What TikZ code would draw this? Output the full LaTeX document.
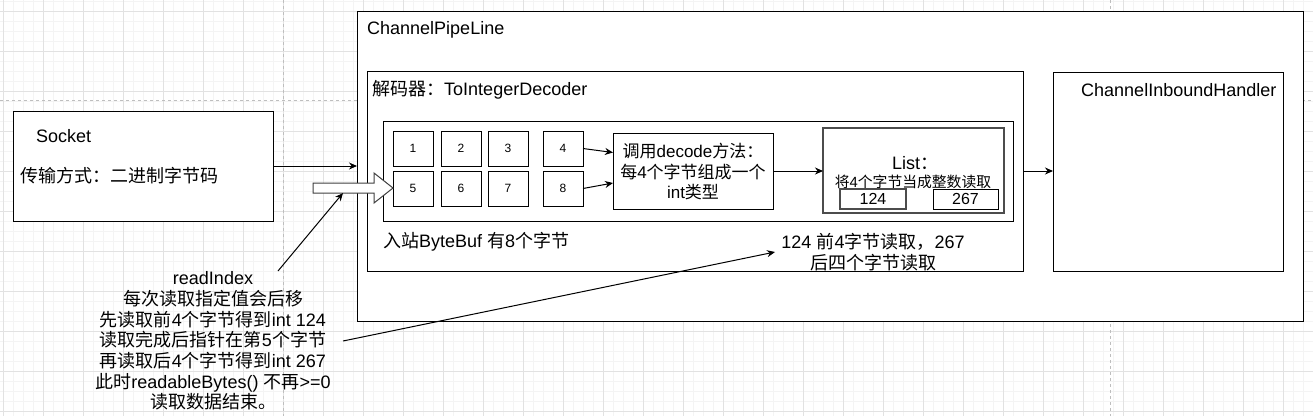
\documentclass[tikz,border=0pt]{standalone}
\usepackage{fontspec}
\setmainfont{Liberation Sans}
\newfontfamily\cjk{Noto Sans CJK SC}
\usetikzlibrary{arrows.meta}
\newcommand\zh[1]{{\cjk #1}}
\definecolor{gridminor}{RGB}{244,244,244}
\definecolor{gridmajor}{RGB}{226,226,226}
\definecolor{pagebreak}{RGB}{190,190,190}
\tikzset{
  box/.style={draw=black, line width=1pt, fill=white, anchor=north west, inner sep=0pt, outer sep=0pt},
  graybox/.style={box, draw=black!70, line width=1.2pt},
  lbl/.style={inner sep=0pt, anchor=west, font=\fontsize{18}{20.7}\selectfont},
  clbl/.style={inner sep=0pt, align=center},
  digit/.style={font=\fontsize{12}{14}\selectfont},
  conn/.style={line width=1pt, -{Stealth[length=8pt,width=7pt]}},
  minorline/.style={draw=gridminor, line width=0.8pt},
  majorline/.style={draw=gridmajor, line width=0.9pt},
  pageline/.style={draw=pagebreak, line width=0.8pt, dash pattern=on 3pt off 3pt},
  hollowarrow/.style={draw=black!75, line width=1pt, fill=white},
}
\begin{document}
\begin{tikzpicture}[x=1pt,y=-1pt]
\useasboundingbox (0,0) rectangle (1313,416);
\fill[white] (0,0) rectangle (1313,416);
% grid
\foreach \x in {3,13,...,1313} \draw[minorline] (\x,0) -- (\x,416);
\foreach \y in {1,11,...,416} \draw[minorline] (0,\y) -- (1313,\y);
\foreach \x in {3,43,...,1313} \draw[majorline] (\x,0) -- (\x,416);
\foreach \y in {11,51,...,416} \draw[majorline] (0,\y) -- (1313,\y);
\draw[pageline] (283,0) -- (283,416);
\draw[pageline] (1110,0) -- (1110,416);
\draw[pageline] (0,100.5) -- (1313,100.5);

% Socket
\node[box, minimum width=260pt, minimum height=110pt] (sock) at (13,111) {};
\node[lbl] (socktitle) at (36,136) {Socket};
\node[lbl] (socktxt) at (20,176) {\zh{传输方式：二进制字节码}};

% ChannelPipeLine
\node[box, minimum width=946pt, minimum height=310pt] (pipe) at (357,11) {};
\node[lbl] (pipetitle) at (367,30) {ChannelPipeLine};

% Decoder
\node[box, minimum width=656pt, minimum height=200pt] (decoder) at (367,71) {};
\node[lbl] (dectitle) at (372,90) {\zh{解码器：}ToIntegerDecoder};

% ByteBuf
\node[box, minimum width=630pt, minimum height=100pt] (buf) at (383,121) {};
\node[lbl] (buftxt) at (383,242) {\zh{入站}ByteBuf \zh{有}8\zh{个字节}};

% bytes
\tikzset{byte/.style={box, minimum width=40pt, minimum height=35pt, digit}}
\node[byte] (b1) at (393,131) {1};
\node[byte] (b2) at (441,131) {2};
\node[byte] (b3) at (488,131) {3};
\node[byte] (b4) at (543,131) {4};
\node[byte] (b5) at (393,171) {5};
\node[byte] (b6) at (441,171) {6};
\node[byte] (b7) at (488,171) {7};
\node[byte] (b8) at (543,171) {8};

% decode method box
\node[box, minimum width=160pt, minimum height=76pt] (dec) at (613,133) {};
\node[clbl, font=\fontsize{17}{20.5}\selectfont] (dectxt) at (693,171.5)
  {\zh{调用}decode\zh{方法：}\\\zh{每}4\zh{个字节组成一个}\\int\zh{类型}};

% List box
\node[graybox, minimum width=181pt, minimum height=85pt] (list) at (823,128) {};
\node[clbl, font=\fontsize{18}{20}\selectfont] (listtitle) at (915,163) {List\zh{：}};
\node[clbl, font=\fontsize{14.8}{16}\selectfont] (listsub) at (913,182) {\zh{将}4\zh{个字节当成整数读取}};
\node[graybox, minimum width=66pt, minimum height=20pt, font=\fontsize{16}{18}\selectfont] (v124) at (840,189) {124};
\node[box, minimum width=65pt, minimum height=20pt, font=\fontsize{16}{18}\selectfont] (v267) at (933,189) {267};

% Handler
\node[box, minimum width=230pt, minimum height=199pt] (handler) at (1053,72) {};
\node[lbl] (handlertitle) at (1081,90) {ChannelInboundHandler};

% result note
\node[clbl, font=\fontsize{18}{21}\selectfont] (resnote) at (873,252.5)
  {124 \zh{前}4\zh{字节读取，}267\\\zh{后四个字节读取}};

% readIndex note
\node[clbl, font=\fontsize{18}{20.7}\selectfont] (note) at (213,341)
  {readIndex\\
   \zh{每次读取指定值会后移}\\
   \zh{先读取前}4\zh{个字节得到}int 124\\
   \zh{读取完成后指针在第}5\zh{个字节}\\
   \zh{再读取后}4\zh{个字节得到}int 267\\
   \zh{此时}readableBytes() \zh{不再}>=0\\
   \zh{读取数据结束。}};

% hollow block arrow into ByteBuf
\draw[hollowarrow] (313,183) -- (374,183) -- (374,173) -- (393,188) -- (374,203) -- (374,193) -- (313,193) -- cycle;
\coordinate (blk) at (343,193);

% connectors
\draw[conn] (sock.east) -- (sock.east -| pipe.west);
\coordinate (d4) at (613,152.5);
\coordinate (d8) at (613,183);
\draw[conn] (b4.east) -- (d4);
\draw[conn] (b8.east) -- (d8);
\draw[conn] (dec.east) -- (dec.east -| list.west);
\draw[conn] (decoder.east) -- (decoder.east -| handler.west);
\coordinate (n1) at (278,271);
\coordinate (n2) at (343,341);
\coordinate (r1) at (775,252);
\draw[conn] (n1) -- (blk);
\draw[conn] (n2) -- (r1);
\end{tikzpicture}
\end{document}
